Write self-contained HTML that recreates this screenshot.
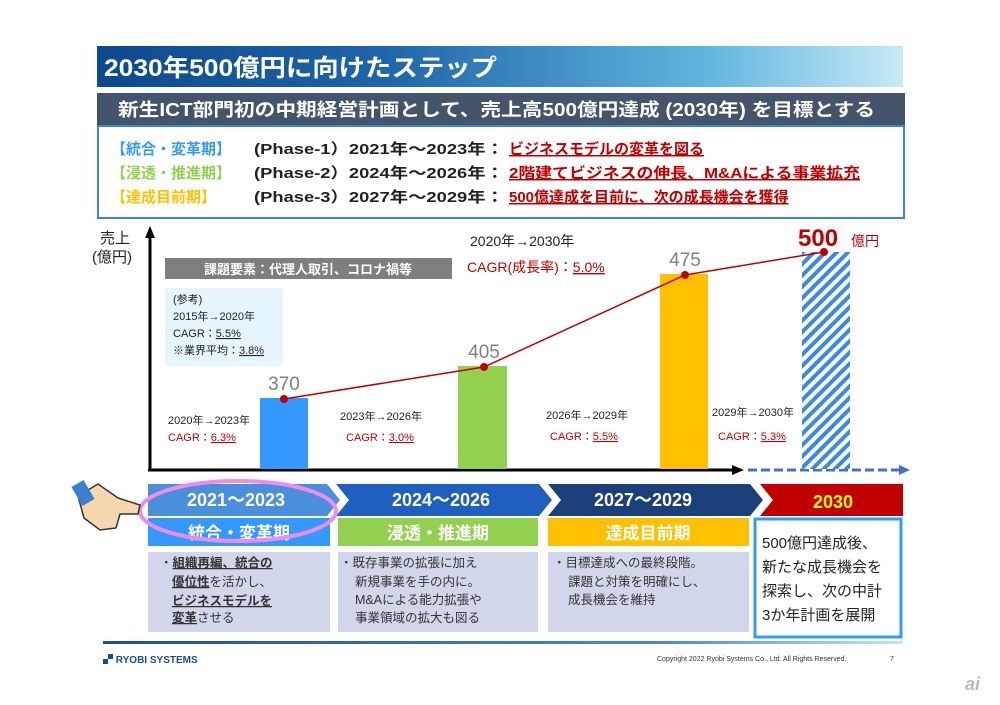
<!DOCTYPE html>
<html><head><meta charset="utf-8"><style>
body{margin:0;background:#fff;}
svg text{font-family:"Liberation Sans","Noto Sans CJK JP",sans-serif;}
</style></head><body>
<svg width="1000" height="700" viewBox="0 0 1000 700" xmlns="http://www.w3.org/2000/svg">
<defs>
<linearGradient id="tg" x1="0" x2="1"><stop offset="0" stop-color="#0b4a8c"/><stop offset="0.35" stop-color="#1e64a8"/><stop offset="0.75" stop-color="#5fb4de"/><stop offset="1" stop-color="#c8e9f6"/></linearGradient>
<linearGradient id="fg" x1="0" x2="1"><stop offset="0" stop-color="#1c4f8f"/><stop offset="0.7" stop-color="#4a8cc8"/><stop offset="1" stop-color="#c6e4f4"/></linearGradient>
<pattern id="hatch" width="8" height="8" patternUnits="userSpaceOnUse" patternTransform="rotate(45)"><rect width="8" height="8" fill="#fff"/><rect width="4" height="8" fill="#3a8ae0"/></pattern>
</defs>
<rect width="1000" height="700" fill="#fff"/>
<rect x="97" y="46" width="806" height="41" fill="url(#tg)"/>
<text x="104" y="76" font-size="24" font-weight="bold" fill="#fff" textLength="393" lengthAdjust="spacingAndGlyphs">2030年500億円に向けたステップ</text>
<rect x="97" y="93" width="808" height="33" fill="#44546a"/>
<text x="118" y="116" font-size="18" font-weight="bold" fill="#fff" textLength="757" lengthAdjust="spacingAndGlyphs">新生ICT部門初の中期経営計画として、売上高500億円達成 (2030年) を目標とする</text>
<rect x="98" y="126" width="806" height="92" fill="#fff" stroke="#3a86d4" stroke-width="2"/>
<g font-size="15" font-weight="bold">
<text x="111" y="154" fill="#3399ff">【統合・変革期】</text>
<text x="111" y="178" fill="#92d050">【浸透・推進期】</text>
<text x="111" y="202" fill="#ffc000">【達成目前期】</text>
<text x="254" y="154" fill="#222" textLength="250" lengthAdjust="spacingAndGlyphs">(Phase-1）2021年～2023年：</text>
<text x="254" y="178" fill="#222" textLength="250" lengthAdjust="spacingAndGlyphs">(Phase-2）2024年～2026年：</text>
<text x="254" y="202" fill="#222" textLength="250" lengthAdjust="spacingAndGlyphs">(Phase-3）2027年～2029年：</text>
<text x="509" y="154" fill="#c00000" text-decoration="underline">ビジネスモデルの変革を図る</text>
<text x="509" y="178" fill="#c00000" text-decoration="underline" textLength="351" lengthAdjust="spacingAndGlyphs">2階建てビジネスの伸長、M&amp;Aによる事業拡充</text>
<text x="509" y="202" fill="#c00000" text-decoration="underline">500億達成を目前に、次の成長機会を獲得</text>
</g>
<text x="100" y="243" font-size="15" fill="#222">売上</text>
<text x="92" y="262" font-size="15" fill="#222">(億円)</text>
<line x1="150" y1="470" x2="150" y2="236" stroke="#000" stroke-width="3"/>
<polygon points="150,226 145,238 155,238" fill="#000"/>
<line x1="148" y1="470" x2="735" y2="470" stroke="#000" stroke-width="3"/>
<polygon points="744,470 732,465 732,475" fill="#000"/>
<line x1="748" y1="470" x2="900" y2="470" stroke="#4472c4" stroke-width="3" stroke-dasharray="9,4"/>
<polygon points="910,470 899,465 899,475" fill="#4472c4"/>
<rect x="260" y="398" width="48" height="71" fill="#3399ff"/>
<rect x="458" y="366" width="49" height="103" fill="#92d050"/>
<rect x="660" y="274" width="48" height="195" fill="#ffc000"/>
<rect x="802" y="252" width="48" height="217" fill="url(#hatch)"/>
<polyline points="284,399 484,367 685,275 824,252" fill="none" stroke="#c00000" stroke-width="1.5"/>
<g fill="#c00000"><circle cx="284" cy="399" r="4"/><circle cx="484" cy="367" r="4"/><circle cx="685" cy="275" r="4"/><circle cx="824" cy="252" r="4"/></g>
<g font-size="19" fill="#7f7f7f" text-anchor="middle"><text x="284" y="390">370</text><text x="484" y="358">405</text><text x="685" y="266">475</text></g>
<text x="798" y="246" font-size="24" font-weight="bold" fill="#c00000">500</text>
<text x="851" y="246" font-size="14" fill="#c00000">億円</text>
<text x="470" y="246" font-size="14" fill="#222">2020年→2030年</text>
<text x="467" y="272" font-size="14" fill="#c00000">CAGR(成長率)：<tspan text-decoration="underline">5.0%</tspan></text>
<rect x="165" y="258" width="287" height="21" fill="#7f7f7f"/>
<text x="308" y="274" font-size="13" font-weight="bold" fill="#fff" text-anchor="middle">課題要素：代理人取引、コロナ禍等</text>
<rect x="165" y="288" width="118" height="78" rx="3" fill="#e6f4fc"/>
<g font-size="11" fill="#222"><text x="173" y="303">(参考)</text><text x="173" y="320">2015年→2020年</text><text x="173" y="337">CAGR：<tspan text-decoration="underline">5.5%</tspan></text><text x="173" y="354">※業界平均：<tspan text-decoration="underline">3.8%</tspan></text></g>
<g font-size="11">
<text x="168" y="424" fill="#222">2020年→2023年</text><text x="168" y="441" fill="#c00000">CAGR：<tspan text-decoration="underline">6.3%</tspan></text>
<text x="340" y="420" fill="#222">2023年→2026年</text><text x="346" y="441" fill="#c00000">CAGR：<tspan text-decoration="underline">3.0%</tspan></text>
<text x="546" y="419" fill="#222">2026年→2029年</text><text x="550" y="440" fill="#c00000">CAGR：<tspan text-decoration="underline">5.5%</tspan></text>
<text x="712" y="416" fill="#222">2029年→2030年</text><text x="718" y="440" fill="#c00000">CAGR：<tspan text-decoration="underline">5.3%</tspan></text>
</g>
<polygon points="148,484 327,484 340,500 327,516 148,516" fill="#4a8fdc"/>
<polygon points="336,484 539,484 552,500 539,516 336,516 349,500" fill="#1f5fbf"/>
<polygon points="548,484 750,484 763,500 750,516 548,516 561,500" fill="#1a3f7a"/>
<polygon points="760,484 903,484 903,516 760,516 773,500" fill="#c00000"/>
<g font-size="18" font-weight="bold" fill="#fff" text-anchor="middle"><text x="236" y="506">2021～2023</text><text x="441" y="506">2024～2026</text><text x="643" y="506">2027～2029</text></g>
<text x="833" y="508" font-size="18" font-weight="bold" fill="#ffff00" text-anchor="middle">2030</text>
<rect x="148" y="518" width="182" height="28" fill="#3399ff"/>
<rect x="338" y="518" width="200" height="28" fill="#92d050"/>
<rect x="548" y="518" width="201" height="28" fill="#ffc000"/>
<g font-size="17" font-weight="bold" fill="#fff" text-anchor="middle"><text x="239" y="539">統合・変革期</text><text x="438" y="539">浸透・推進期</text><text x="648" y="539">達成目前期</text></g>
<rect x="148" y="552" width="182" height="80" fill="#d2d6ea"/>
<rect x="338" y="552" width="200" height="80" fill="#d2d6ea"/>
<rect x="548" y="552" width="201" height="80" fill="#d2d6ea"/>
<g font-size="12.5" fill="#333">
<text x="160" y="567">・<tspan font-weight="bold" text-decoration="underline">組織再編、統合の</tspan></text>
<text x="172" y="586"><tspan font-weight="bold" text-decoration="underline">優位性</tspan>を活かし、</text>
<text x="172" y="605" font-weight="bold" text-decoration="underline">ビジネスモデルを</text>
<text x="172" y="622"><tspan font-weight="bold" text-decoration="underline">変革</tspan>させる</text>
<text x="340" y="567">・既存事業の拡張に加え</text>
<text x="355" y="586">新規事業を手の内に。</text>
<text x="355" y="604">M&amp;Aによる能力拡張や</text>
<text x="355" y="622">事業領域の拡大も図る</text>
<text x="553" y="567">・目標達成への最終段階。</text>
<text x="568" y="586">課題と対策を明確にし、</text>
<text x="568" y="604">成長機会を維持</text>
</g>
<rect x="755" y="519" width="146" height="118" fill="#fff" stroke="#3399ff" stroke-width="3"/>
<g font-size="15" fill="#222"><text x="762" y="548">500億円達成後、</text><text x="762" y="572">新たな成長機会を</text><text x="762" y="596">探索し、次の中計</text><text x="762" y="620">3か年計画を展開</text></g>
<ellipse cx="238" cy="511" rx="98" ry="30" fill="none" stroke="#f08ce8" stroke-width="4"/>
<path d="M78,496 L98,484 L118,498 L140,505 L138,514 L120,514 L116,528 L100,530 L84,518 Z" fill="#f6d7b0" stroke="#333" stroke-width="1.5"/>
<rect x="76" y="482" width="14" height="22" fill="#3a80d0" transform="rotate(-30 83 493)"/>
<rect x="103" y="641" width="800" height="3" fill="url(#fg)"/>
<text x="103" y="663" font-size="10" font-weight="bold" fill="#1a4d8f">▞ RYOBI SYSTEMS</text>
<text x="657" y="661" font-size="7" fill="#333">Copyright 2022 Ryobi Systems Co., Ltd. All Rights Reserved.</text>
<text x="890" y="661" font-size="7" fill="#333">7</text>
<text x="965" y="690" font-size="18" font-weight="bold" fill="#bbb" font-style="italic">ai</text>
</svg>
</body></html>
